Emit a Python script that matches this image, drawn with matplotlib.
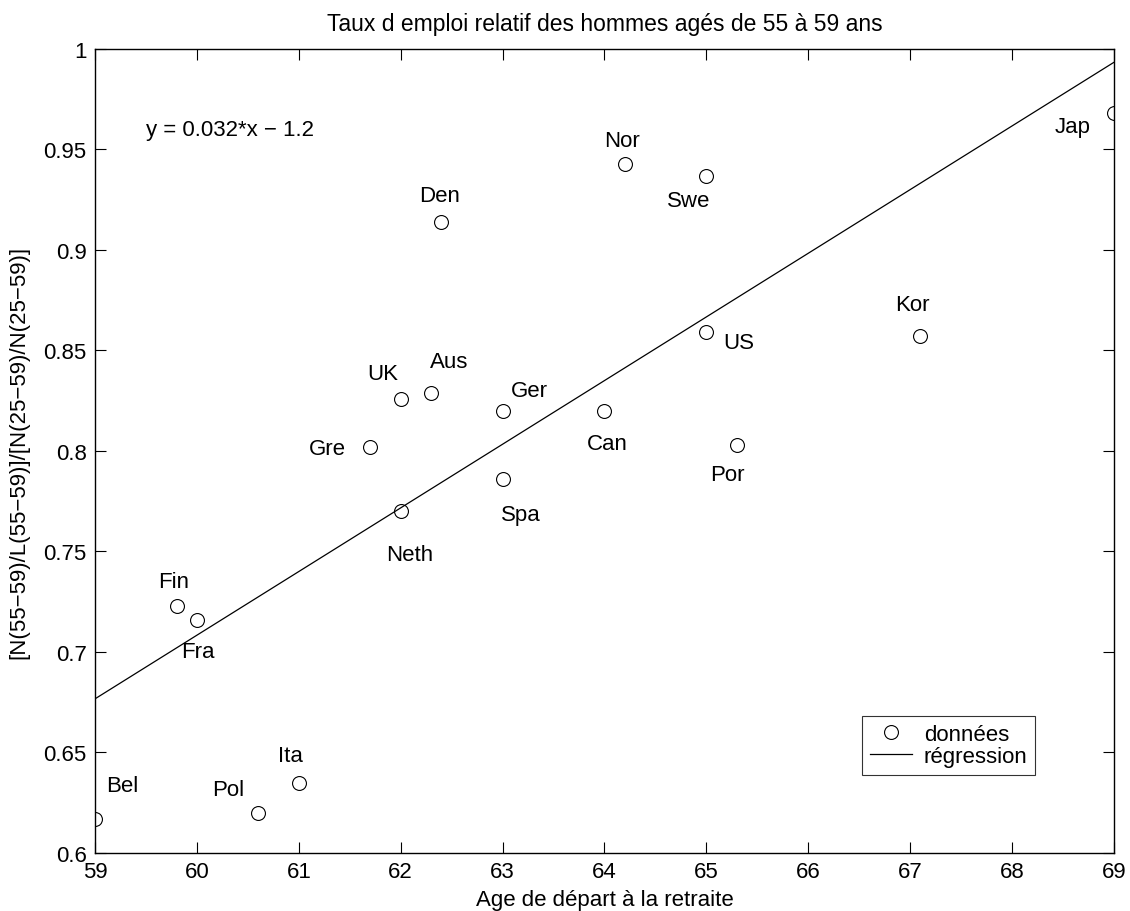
import numpy as np
import matplotlib
matplotlib.use('Agg')
import matplotlib.pyplot as plt

plt.rcParams['font.family'] = ['Liberation Sans', 'DejaVu Sans']

# country data: retirement age vs relative employment rate
countries = ['Bel', 'Fin', 'Fra', 'Pol', 'Ita', 'Den', 'UK', 'Aus', 'Ger', 'Gre',
             'Spa', 'Neth', 'Can', 'Nor', 'Swe', 'US', 'Por', 'Kor', 'Jap']
age = [59.0, 59.8, 60.0, 60.6, 61.0, 62.4, 62.0, 62.3, 63.0, 61.7,
       63.0, 62.0, 64.0, 64.2, 65.0, 65.0, 65.3, 67.1, 69.0]
rate = [0.617, 0.723, 0.716, 0.620, 0.635, 0.914, 0.826, 0.829, 0.820, 0.802,
        0.786, 0.770, 0.820, 0.943, 0.937, 0.859, 0.803, 0.857, 0.968]

# label offsets in pixels (dx right, dy down) relative to the marker
offsets = {'Bel': (27, -33), 'Fin': (-3, -24), 'Fra': (1, 32), 'Pol': (-30, -23),
           'Ita': (-8, -27), 'Den': (-2, -26), 'UK': (-18, -25), 'Aus': (18, -31),
           'Ger': (27, -20), 'Gre': (-43, 2), 'Spa': (18, 35), 'Neth': (9, 43),
           'Can': (3, 33), 'Nor': (-3, -23), 'Swe': (-18, 25), 'US': (32, 10),
           'Por': (-10, 30), 'Kor': (-8, -32), 'Jap': (-41, 13)}

coef = np.polyfit(age, rate, 1)
xfit = np.array([59, 69])
yfit = np.polyval(coef, xfit)

fs = 16
fig = plt.figure(figsize=(11.3, 9.12), dpi=100)
ax = fig.add_axes([0.0841, 0.0636, 0.9017, 0.8816])

ax.plot(age, rate, 'o', mfc='none', mec='k', ms=10, mew=0.8, label='données')
ax.plot(xfit, yfit, 'k-', lw=0.9, label='régression')

px = 0.72  # points per pixel
for c, x, y in zip(countries, age, rate):
    dx, dy = offsets[c]
    ax.annotate(c, (x, y), xytext=(dx * px, -dy * px), textcoords='offset points',
                ha='center', va='center', fontsize=fs)

ax.text(59.5, 0.96, 'y = 0.032*x \u2212 1.2', fontsize=fs, ha='left', va='center')

ax.set_xlim(59, 69)
ax.set_ylim(0.6, 1.0)
ax.set_xticks(range(59, 70))
ax.set_yticks([0.6, 0.65, 0.7, 0.75, 0.8, 0.85, 0.9, 0.95, 1.0])
ax.set_yticklabels(['0.6', '0.65', '0.7', '0.75', '0.8', '0.85', '0.9', '0.95', '1'])
ax.tick_params(direction='in', top=True, right=True, length=8, width=0.8, labelsize=fs, pad=6)
for s in ax.spines.values():
    s.set_linewidth(1.0)

ax.set_title('Taux d emploi relatif des hommes agés de 55 à 59 ans', fontsize=16.5, pad=14)
ax.set_xlabel('Age de départ à la retraite', fontsize=fs, labelpad=5)
ax.set_ylabel('[N(55\u221259)/L(55\u221259)]/[N(25\u221259)/N(25\u221259)]', fontsize=fs, labelpad=10)

leg = ax.legend(loc='lower right', bbox_to_anchor=(0.923, 0.097), fontsize=fs,
                frameon=True, fancybox=False, edgecolor='k', borderpad=0.35,
                handlelength=1.9, handletextpad=0.55, labelspacing=0.05, borderaxespad=0)
leg.get_frame().set_linewidth(0.8)

fig.savefig('out.png', dpi=100)
